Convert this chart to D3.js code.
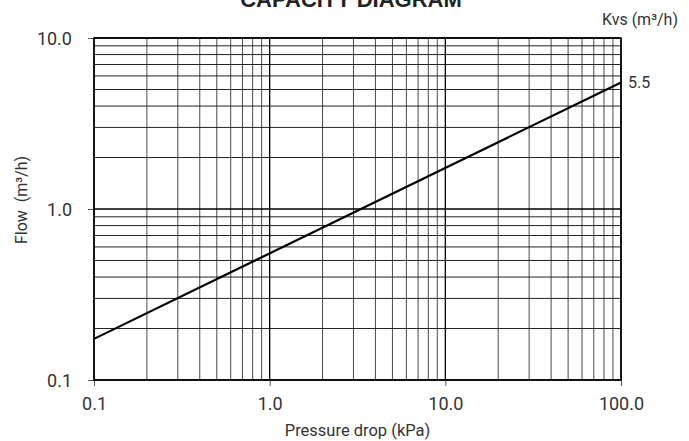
<!DOCTYPE html>
<html>
<head>
<meta charset="utf-8">
<script src="https://cdn.jsdelivr.net/npm/d3@7"></script>
<style>
  body { margin: 0; background: #fff; }
  text { font-family: Roboto, "Liberation Sans", sans-serif; }
</style>
</head>
<body>
<div id="chart"></div>
<script>
// DATA
var xTicks = [0.1, 1, 10, 100];
var xTickLabels = ["0.1", "1.0", "10.0", "100.0"];
var yTicks = [0.1, 1, 10];
var yTickLabels = ["0.1", "1.0", "10.0"];
// pressure drop (kPa) vs flow (m3/h) for the one valve line
var lineDp = [0.1, 100];
var lineFlow = [0.174, 5.5];
var kvsLabel = "5.5";

// SET UP
var margin = {top: 38, right: 68, bottom: 61, left: 94},
    width = 689 - margin.left - margin.right,
    height = 441 - margin.top - margin.bottom;

var svg = d3.select("#chart").append("svg")
    .attr("width", 689)
    .attr("height", 441)
    .append("g")
    .attr("transform", "translate(" + margin.left + "," + margin.top + ")");

var xScale = d3.scaleLog().domain([0.1, 100]).range([0, width]);
var yScale = d3.scaleLog().domain([0.1, 10]).range([height, 0]);

// minor grid values, 2..9 in every decade
var xMinor = [], yMinor = [];
xTicks.slice(0, -1).forEach(function(d) {
    for (var i = 2; i <= 9; i++) xMinor.push(d * i);
});
yTicks.slice(0, -1).forEach(function(d) {
    for (var i = 2; i <= 9; i++) yMinor.push(d * i);
});

// vertical grid
svg.append("g")
    .selectAll("line")
    .data(xMinor)
    .join("line")
    .attr("x1", (d) => xScale(d)).attr("x2", (d) => xScale(d))
    .attr("y1", 0).attr("y2", height)
    .attr("stroke", "#4a4a4a")
    .attr("stroke-width", 1);

// horizontal grid
svg.append("g")
    .selectAll("line")
    .data(yMinor)
    .join("line")
    .attr("x1", 0).attr("x2", width)
    .attr("y1", (d) => yScale(d)).attr("y2", (d) => yScale(d))
    .attr("stroke", "#222")
    .attr("stroke-width", 1);

// decade lines
svg.append("g")
    .selectAll("line")
    .data(xTicks)
    .join("line")
    .attr("x1", (d) => xScale(d)).attr("x2", (d) => xScale(d))
    .attr("y1", 0).attr("y2", height)
    .attr("stroke", "#000")
    .attr("stroke-width", 1.3);
svg.append("g")
    .selectAll("line")
    .data(yTicks)
    .join("line")
    .attr("x1", 0).attr("x2", width)
    .attr("y1", (d) => yScale(d)).attr("y2", (d) => yScale(d))
    .attr("stroke", "#000")
    .attr("stroke-width", 1.3);

// Axes
var xAxis = svg.append("g")
    .attr("transform", "translate(0," + height + ")")
    .call(d3.axisBottom(xScale).tickValues(xTicks)
        .tickFormat((d, i) => xTickLabels[i]).tickSize(6).tickPadding(11));
var yAxis = svg.append("g")
    .call(d3.axisLeft(yScale).tickValues(yTicks)
        .tickFormat((d, i) => yTickLabels[i]).tickSize(6).tickPadding(16));

[xAxis, yAxis].forEach(function(a) {
    a.select(".domain").remove();
    a.selectAll(".tick line").attr("stroke", "#555");
    a.selectAll(".tick text")
        .attr("font-size", 18)
        .attr("fill", "#333")
        .style("font-family", "Roboto, sans-serif");
});
yAxis.selectAll(".tick text").attr("dy", "0.35em");

// frame
svg.append("rect")
    .attr("width", width).attr("height", height)
    .attr("fill", "none")
    .attr("stroke", "#000")
    .attr("stroke-width", 1.5);

// capacity line
var line = d3.line()
    .x((d) => xScale(d[0]))
    .y((d) => yScale(d[1]));
svg.append("path")
    .datum(lineDp.map((d, i) => [d, lineFlow[i]]))
    .attr("d", line)
    .attr("fill", "none")
    .attr("stroke", "#000")
    .attr("stroke-width", 2.2);

svg.append("text")
    .attr("x", width + 7)
    .attr("y", yScale(lineFlow[1]))
    .attr("dy", "0.35em")
    .attr("font-size", 16)
    .attr("fill", "#333")
    .text(kvsLabel);

// Labels
svg.append("text")
    .attr("x", 257)
    .attr("y", -31)
    .attr("text-anchor", "middle")
    .attr("font-size", 22)
    .attr("font-weight", "bold")
    .attr("fill", "#222")
    .style("font-family", "'Liberation Sans', Arial, sans-serif")
    .text("CAPACITY DIAGRAM");

svg.append("text")
    .attr("x", width + 57)
    .attr("y", -13)
    .attr("text-anchor", "end")
    .attr("font-size", 16)
    .attr("fill", "#333")
    .text("Kvs (m³/h)");

svg.append("text")
    .attr("x", width / 2)
    .attr("y", height + 56)
    .attr("text-anchor", "middle")
    .attr("font-size", 16.5)
    .attr("fill", "#333")
    .text("Pressure drop (kPa)");

svg.append("text")
    .attr("transform", "rotate(-90)")
    .attr("x", -(200 - margin.top))
    .attr("y", -67)
    .attr("text-anchor", "middle")
    .attr("font-size", 16)
    .attr("fill", "#333")
    .style("white-space", "pre")
    .text("Flow  (m³/h)");
</script>
</body>
</html>
